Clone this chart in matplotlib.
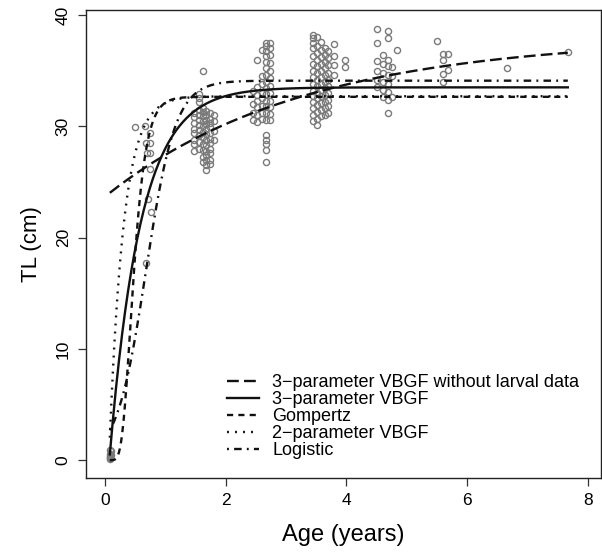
import numpy as np
import matplotlib
matplotlib.use("Agg")
import matplotlib.pyplot as plt

plt.rcParams['font.family'] = ['Liberation Sans', 'DejaVu Sans']

## observed fish: age (years) and total length (cm)
larv_age = [0.08, 0.08, 0.09, 0.09, 0.10, 0.10, 0.08, 0.09]
larv_tl = [0.2, 0.4, 0.3, 0.6, 0.5, 0.8, 0.1, 0.9]

juv_age = [0.50, 0.66, 0.75, 0.68, 0.74, 0.69, 0.74, 0.75, 0.71, 0.76, 0.68]
juv_tl = [29.9, 30.0, 29.4, 28.5, 28.5, 27.6, 27.6, 26.2, 23.5, 22.3, 17.7]

# yearly clusters, one list of lengths per age column
col_age = [1.47, 1.55, 1.62, 1.68, 1.74, 1.80,
           2.45, 2.52, 2.60, 2.67, 2.73,
           3.45, 3.52, 3.58, 3.64, 3.70, 3.80, 3.97,
           4.50, 4.60, 4.69, 4.76, 4.84,
           5.51, 5.60, 5.68, 6.67, 7.67]
col_tl = [
    [31.2, 30.8, 30.3, 29.8, 29.4, 28.8, 28.4, 27.8],
    [32.9, 32.5, 32.2, 31.5, 31.0, 30.6, 30.1, 29.7, 29.2, 28.6, 28.0],
    [35.0, 31.6, 31.3, 30.9, 30.5, 30.0, 29.5, 29.0, 28.4, 27.9, 27.2, 26.8],
    [31.4, 31.0, 30.6, 30.2, 29.8, 29.3, 28.8, 28.3, 27.8, 27.4, 27.0, 26.5, 26.1],
    [31.2, 30.7, 30.3, 29.9, 29.4, 28.9, 28.5, 28.0, 27.6, 27.0, 26.6],
    [31.0, 30.5, 29.6, 28.8],
    [33.2, 32.0, 31.2, 30.6],
    [36.0, 33.5, 32.8, 32.3, 31.7, 31.0, 30.4],
    [36.9, 34.5, 33.8, 33.0, 32.5, 31.8, 31.2, 30.7],
    [37.5, 37.2, 36.8, 36.3, 35.8, 35.2, 34.6, 34.0, 33.4, 32.9, 32.3, 31.8,
     31.2, 30.6, 29.2, 28.8, 28.4, 27.9, 26.8],
    [37.5, 37.0, 36.4, 35.7, 35.0, 34.3, 33.6, 33.0, 32.3, 31.7, 31.1, 30.6],
    [38.2, 37.9, 37.5, 37.0, 36.3, 35.6, 35.0, 34.4, 33.8, 33.2, 32.7, 32.2,
     31.6, 31.0, 30.5],
    [38.0, 37.2, 36.6, 36.0, 35.4, 34.8, 34.2, 33.6, 33.0, 32.5, 31.9, 31.3,
     30.7, 30.1],
    [37.6, 36.9, 36.2, 35.6, 35.0, 34.4, 33.8, 33.3, 32.7, 32.1, 31.5, 30.9],
    [37.0, 36.4, 35.8, 35.2, 34.6, 34.0, 33.4, 32.8, 32.2, 31.6, 31.0],
    [36.8, 36.1, 35.5, 34.8, 34.2, 33.6, 33.0, 32.4, 31.8, 31.2],
    [37.4, 36.3, 35.5, 34.6],
    [36.0, 35.3],
    [38.7, 37.5, 35.9, 35.0, 34.2, 33.5],
    [36.4, 35.6, 34.8, 34.0, 33.3, 32.6],
    [38.6, 37.9, 36.0, 35.4, 34.6, 33.8, 33.1, 32.4, 31.2],
    [35.3, 34.5, 32.6],
    [36.9],
    [37.7],
    [36.5, 36.0, 34.7, 34.0],
    [36.5, 35.1],
    [35.2],
    [36.7],
]

## fitted growth models (parameters)
vb_nl = dict(linf=38.0, k=0.304, t0=-3.21)   # 3-parameter VBGF without larval data
vb3 = dict(linf=33.5, k=1.95, t0=0.072)      # 3-parameter VBGF
gomp = dict(linf=32.65, k=7.1, ti=0.42)      # Gompertz
vb2 = dict(linf=32.7, k=4.26, t0=0.065)      # 2-parameter VBGF
logi = dict(linf=34.1, k=4.1, ti=0.68)       # Logistic

labels = ['3\u2212parameter VBGF without larval data', '3\u2212parameter VBGF',
          'Gompertz', '2\u2212parameter VBGF', 'Logistic']

def vbgf(t, linf, k, t0):
    return linf * (1 - np.exp(-k * (t - t0)))

def gompertz(t, linf, k, ti):
    return linf * np.exp(-np.exp(-k * (t - ti)))

def logistic(t, linf, k, ti):
    return linf / (1 + np.exp(-k * (t - ti)))

ages = np.append(larv_age, juv_age)
tls = np.append(larv_tl, juv_tl)
for a, ys in zip(col_age, col_tl):
    ages = np.append(ages, [a] * len(ys))
    tls = np.append(tls, ys)

t = np.linspace(0.08, 7.67, 600)

fig = plt.figure(figsize=(6.02, 5.55), dpi=100)
ax = fig.add_axes([86/602, 77/555, 515/602, 468/555])

ax.plot(ages, tls, 'o', mfc='none', mec='#7a7a7a', mew=1.0, ms=4.4, zorder=1)

lw = 1.7
ax.plot(t, vbgf(t, **vb_nl), color='#111111', lw=lw, dashes=(5, 2.2), label=labels[0])
ax.plot(t, vbgf(t, **vb3), color='#111111', lw=lw, label=labels[1])
ax.plot(t, gompertz(t, **gomp), color='#111111', lw=lw, dashes=(2.6, 2.2), label=labels[2])
ax.plot(t, vbgf(t, **vb2), color='#111111', lw=lw, dashes=(0.8, 2.6), label=labels[3])
ax.plot(t, logistic(t, **logi), color='#111111', lw=lw, dashes=(0.8, 2.2, 3.2, 2.2), label=labels[4])

ax.set_xlim(-0.315, 8.22)
ax.set_ylim(-1.6, 40.45)
ax.set_xticks([0, 2, 4, 6, 8])
ax.set_yticks([0, 10, 20, 30, 40])
ax.tick_params(length=6, width=0.9, labelsize=12.5, pad=5, color='#333333')
for lab in ax.get_yticklabels():
    lab.set_rotation(90)
    lab.set_va('center')
for sp in ax.spines.values():
    sp.set_linewidth(1.0)
    sp.set_color('#222222')

ax.set_xlabel('Age (years)', fontsize=17, labelpad=11)
ax.set_ylabel('TL (cm)', fontsize=16, labelpad=10)

ax.legend(loc='lower right', bbox_to_anchor=(0.995, 0.0), frameon=False, fontsize=13,
          handlelength=1.75, handletextpad=0.75, labelspacing=0.0, borderaxespad=0.65)

fig.savefig('out.png', dpi=100)
